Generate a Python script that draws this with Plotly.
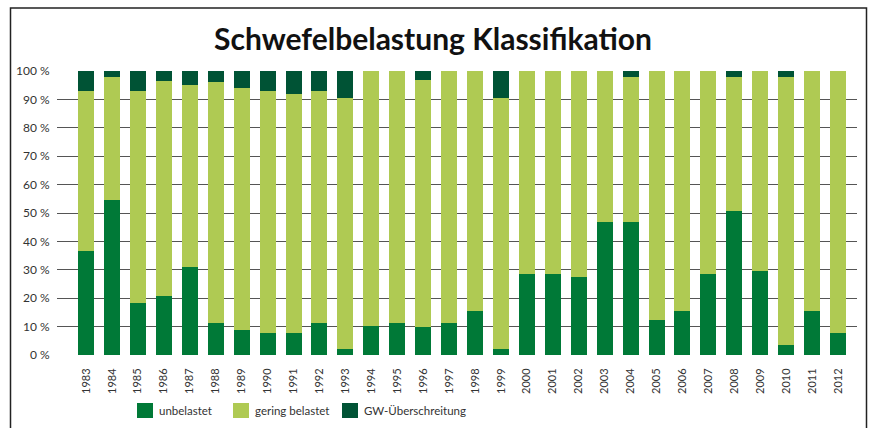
import plotly.graph_objects as go

years = [str(y) for y in range(1983, 2013)]
unbelastet = [36.5, 54.5, 18.2, 20.7, 30.9, 11.2, 8.7, 7.6, 7.6, 11.2,
              2.1, 10.2, 11.2, 9.8, 11.2, 15.4, 2.1, 28.4, 28.4, 27.4,
              46.7, 46.7, 12.5, 15.4, 28.4, 50.6, 29.5, 3.5, 15.4, 7.6]
gering_belastet = [56.5, 43.3, 74.8, 75.7, 64.1, 84.8, 85.2, 85.4, 84.2, 81.7,
                   88.3, 89.8, 88.8, 87.0, 88.8, 84.6, 88.3, 71.6, 71.6, 72.6,
                   53.3, 51.2, 87.5, 84.6, 71.6, 47.3, 70.5, 94.4, 84.6, 92.4]
gw_ueberschreitung = [7.0, 2.2, 7.0, 3.6, 5.0, 4.0, 6.1, 7.0, 8.2, 7.1,
                      9.6, 0.0, 0.0, 3.2, 0.0, 0.0, 9.6, 0.0, 0.0, 0.0,
                      0.0, 2.1, 0.0, 0.0, 0.0, 2.1, 0.0, 2.1, 0.0, 0.0]
y_ticks = [0, 10, 20, 30, 40, 50, 60, 70, 80, 90, 100]
y_ticktext = [f"{v} %" for v in y_ticks]
series_names = ["unbelastet", "gering belastet", "GW-Überschreitung"]
series_colors = ["#007937", "#AFCA53", "#005335"]

W, H = 874, 428
ML, MR, MT, MB = 57, 17, 71, 73
PW, PH = W - ML - MR, H - MT - MB

def px_x(p):
    return (p - ML) / PW

def px_y(p):
    return (H - MB - p) / PH

FONT = "Lato"

fig = go.Figure()
for name, vals, col in zip(series_names,
                           [unbelastet, gering_belastet, gw_ueberschreitung],
                           series_colors):
    fig.add_trace(go.Bar(x=years, y=vals, name=name, showlegend=False,
                         marker=dict(color=col, line=dict(width=0))))

# legend drawn manually (square + label) to match the reference placement
legend_sq_x = [137, 233, 342]
shapes = [dict(type="rect", xref="paper", yref="paper",
               x0=px_x(10.5), x1=px_x(866.5), y0=px_y(450), y1=px_y(8),
               line=dict(color="#222222", width=1.5), fillcolor="rgba(0,0,0,0)",
               layer="above")]
annotations = []
for sx, name, col in zip(legend_sq_x, series_names, series_colors):
    shapes.append(dict(type="rect", xref="paper", yref="paper",
                       x0=px_x(sx), x1=px_x(sx + 16), y0=px_y(418), y1=px_y(403),
                       line=dict(width=0), fillcolor=col))
    annotations.append(dict(text=name, xref="paper", yref="paper",
                            x=px_x(sx + 20), y=px_y(410.5), xanchor="left",
                            yanchor="middle", showarrow=False,
                            font=dict(family=FONT, size=11.5, color="#333333")))

fig.update_layout(
    width=W, height=H,
    barmode="stack", bargap=0.383,
    plot_bgcolor="white", paper_bgcolor="white",
    margin=dict(l=ML, r=MR, t=MT, b=MB, autoexpand=False),
    font=dict(family=FONT, color="#333333"),
    title=dict(text="<b>Schwefelbelastung Klassifikation</b>",
               font=dict(family=FONT, size=30, color="#111111"),
               x=433 / W, xanchor="center", y=1 - 39 / H, yanchor="middle"),
    xaxis=dict(type="category", range=[-1.12, 29.73], tickangle=-90,
               tickfont=dict(size=11, color="#333333"),
               ticks="outside", ticklen=8, tickcolor="rgba(0,0,0,0)",
               showgrid=False, showline=False, zeroline=False),
    yaxis=dict(range=[0, 100], tickmode="array", tickvals=y_ticks,
               ticktext=y_ticktext,
               tickfont=dict(size=12, color="#333333"),
               ticks="outside", ticklen=4, tickcolor="rgba(0,0,0,0)",
               showgrid=True, gridcolor="#555555", gridwidth=1.2,
               zeroline=False, showline=False),
    showlegend=False,
    shapes=shapes,
    annotations=annotations,
)

fig.write_html("out.html", config={"displayModeBar": False},
               post_script="document.body.style.margin='0';")
